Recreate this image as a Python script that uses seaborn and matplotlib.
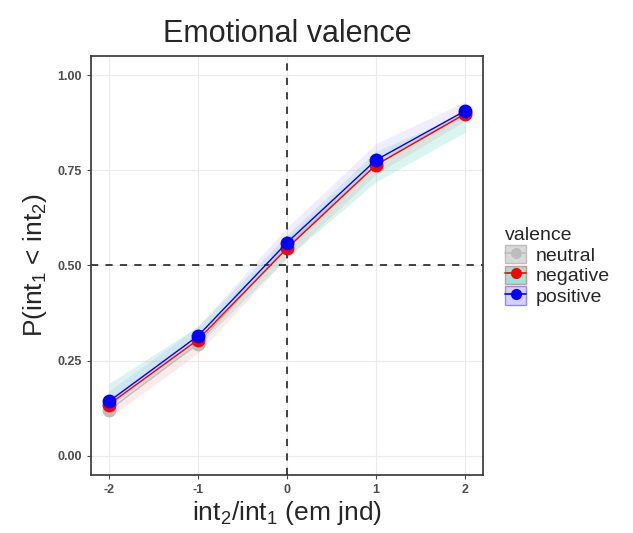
import pandas as pd
import matplotlib.pyplot as plt
import seaborn as sns
from matplotlib.patches import Patch
from matplotlib.lines import Line2D

# data
ratio = [-2, -1, 0, 1, 2]
valence = ["neutral", "negative", "positive"]
p_neutral = [0.12, 0.295, 0.55, 0.765, 0.900]
p_negative = [0.135, 0.305, 0.545, 0.764, 0.898]
p_positive = [0.143, 0.315, 0.560, 0.777, 0.906]

# ribbon bounds per valence
lo_neutral = [0.10, 0.27, 0.52, 0.74, 0.88]
hi_neutral = [0.15, 0.31, 0.57, 0.78, 0.91]
lo_negative = [0.13, 0.29, 0.52, 0.72, 0.85]
hi_negative = [0.19, 0.34, 0.58, 0.80, 0.90]
lo_positive = [0.13, 0.30, 0.55, 0.77, 0.89]
hi_positive = [0.17, 0.34, 0.60, 0.82, 0.93]

line_colors = {"neutral": "#bdbdbd", "negative": "#ff0000", "positive": "#0000ff"}
ribbon_colors = {"neutral": "#F8766D", "negative": "#00BFA0", "positive": "#9C8CFF"}

df = pd.DataFrame({
    "ratio": ratio * 3,
    "p": p_neutral + p_negative + p_positive,
    "lo": lo_neutral + lo_negative + lo_positive,
    "hi": hi_neutral + hi_negative + hi_positive,
    "valence": [v for v in valence for _ in ratio],
})

sns.set_theme(style="whitegrid")
plt.rcParams["font.family"] = ["Liberation Sans", "DejaVu Sans"]
plt.rcParams["axes.unicode_minus"] = False
plt.rcParams["mathtext.fontset"] = "custom"
plt.rcParams["mathtext.rm"] = "Liberation Sans"
plt.rcParams["mathtext.it"] = "Liberation Sans:italic"

fig = plt.figure(figsize=(6.33, 5.33), dpi=100)
ax = fig.add_axes([0.1438, 0.1088, 0.6192, 0.7862])

for v in valence:
    sub = df[df["valence"] == v]
    ax.fill_between(sub["ratio"], sub["lo"], sub["hi"], color=ribbon_colors[v],
                    alpha=0.15, linewidth=0, zorder=1)

ax.axvline(0, color="#333333", linestyle=(0, (4, 4)), linewidth=1.3, zorder=2)
ax.axhline(0.5, color="#333333", linestyle=(0, (4, 4)), linewidth=1.3, zorder=2)

sns.lineplot(data=df, x="ratio", y="p", hue="valence", hue_order=valence,
             palette=line_colors, marker="o", markersize=10, markeredgewidth=0,
             linewidth=1.0, legend=False, ax=ax, zorder=3)

ax.set_xlim(-2.2, 2.2)
ax.set_ylim(-0.05, 1.05)
ax.set_xticks(ratio)
ax.set_xticklabels(["-2", "-1", "0", "1", "2"])
ax.set_yticks([0, 0.25, 0.5, 0.75, 1.0])
ax.set_yticklabels(["0.00", "0.25", "0.50", "0.75", "1.00"])
ax.tick_params(axis="both", labelsize=9, colors="#4d4d4d", length=3,
               left=True, bottom=True, width=0.8)
for lab in ax.get_xticklabels() + ax.get_yticklabels():
    lab.set_fontweight("bold")
ax.grid(True, color="#ebebeb", linewidth=0.8)
for s in ax.spines.values():
    s.set_color("#333333")
    s.set_linewidth(1.2)

ax.set_title("Emotional valence", fontsize=22, pad=10)
ax.set_xlabel(r"$\mathrm{int}_2/\mathrm{int}_1$ (em jnd)", fontsize=19, labelpad=2)
ax.set_ylabel(r"P($\mathrm{int}_1$ < $\mathrm{int}_2$)", fontsize=19, labelpad=6)

handles = []
for v in valence:
    edge = "#bdbdbd" if v == "neutral" else line_colors[v]
    face = "#d9d9d9" if v == "neutral" else ribbon_colors[v]
    patch = Patch(facecolor=face, edgecolor=edge, alpha=0.4 if v != "neutral" else 1)
    line = Line2D([], [], color=line_colors[v], marker="o", markersize=8,
                  markeredgewidth=0, linewidth=1.2)
    handles.append((patch, line))

leg = fig.legend(handles, valence, title="valence", loc="center left",
                 bbox_to_anchor=(0.77, 0.50), frameon=False, fontsize=14,
                 title_fontsize=14, handlelength=1.1, handleheight=1.1,
                 handletextpad=0.5, labelspacing=0.05)
leg._legend_box.align = "left"

fig.savefig("out.png", dpi=100)
